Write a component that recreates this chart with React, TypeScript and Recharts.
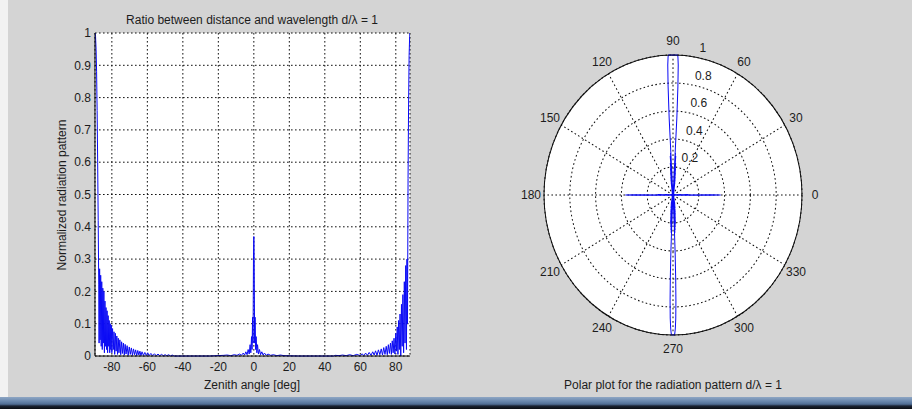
import {
  CartesianGrid,
  Line,
  LineChart,
  PolarAngleAxis,
  PolarGrid,
  PolarRadiusAxis,
  Radar,
  RadarChart,
  XAxis,
  YAxis,
} from "recharts";

// normalized radiation pattern, zenith angle in degrees
const LEFT_ZENITH = [
  -89.5, -89.2, -88.9, -88.6, -88.3, -88.0, -87.7, -87.4, -87.2, -86.9, -86.6, -86.3, -86.0, -85.7, -85.4,
  -85.1, -84.8, -84.5, -84.2, -83.9, -83.6, -83.3, -83.0, -82.7, -82.4, -82.1, -81.8, -81.5, -81.2, -80.9,
  -80.6, -80.3, -80.0, -79.6, -79.2, -78.8, -78.4, -78.0, -77.6, -77.2, -76.8, -76.4, -76.0, -75.5, -75.0,
  -74.5, -74.0, -73.5, -73.0, -72.5, -72.0, -71.4, -70.8, -70.2, -69.6, -69.0, -68.4, -67.8, -67.2, -66.6,
  -66.0, -65.4, -64.8, -64.2, -63.6, -63.0, -62.2, -61.4, -60.6, -59.8, -59.0, -58.0, -57.0, -56.0, -55.0,
  -54.0, -53.0, -52.0, -51.0, -50.0, -49.0, -48.0, -47.0, -46.0, -45.0, -35.0, -25.0,
];
const LEFT_LEVEL = [
  1.0, 0.99, 0.95, 0.88, 0.76, 0.6, 0.42, 0.22, 0.04, 0.27, 0.05, 0.25, 0.03, 0.23, 0.02,
  0.21, 0.04, 0.2, 0.01, 0.17, 0.03, 0.15, 0.02, 0.14, 0.01, 0.125, 0.03, 0.11, 0.01, 0.1,
  0.02, 0.095, 0.01, 0.085, 0.02, 0.075, 0.005, 0.07, 0.015, 0.062, 0.005, 0.055, 0.01, 0.05, 0.004,
  0.044, 0.008, 0.04, 0.003, 0.036, 0.006, 0.032, 0.002, 0.028, 0.005, 0.025, 0.002, 0.022, 0.004, 0.019,
  0.001, 0.017, 0.003, 0.015, 0.001, 0.013, 0.002, 0.011, 0.001, 0.01, 0.001, 0.008, 0.001, 0.007, 0.001,
  0.006, 0.001, 0.005, 0.001, 0.004, 0.001, 0.004, 0.0, 0.003, 0.0, 0.0, 0.0,
];

const MID_ZENITH = [
  -17, -15, -13, -11, -9.5, -8, -7, -6, -5.2, -4.5, -3.8, -3.2, -2.6, -2.1, -1.7, -1.3, -1.0, -0.7, -0.45, -0.2,
  0, 0.2, 0.45, 0.7, 1.0, 1.3, 1.7, 2.1, 2.6, 3.2, 3.8, 4.5, 5.2, 6, 7, 8, 9.5, 11, 13, 15, 17, 25, 35,
];
const MID_LEVEL = [
  0.002, 0.003, 0.001, 0.004, 0.002, 0.006, 0.002, 0.009, 0.003, 0.013, 0.004, 0.02, 0.006, 0.035, 0.01, 0.06,
  0.02, 0.12, 0.04, 0.3, 0.37, 0.3, 0.04, 0.12, 0.02, 0.06, 0.01, 0.035, 0.006, 0.02, 0.004, 0.013, 0.003, 0.009,
  0.002, 0.006, 0.002, 0.004, 0.001, 0.003, 0.001, 0.0, 0.0,
];

const RIGHT_ZENITH = [
  45, 46, 48, 50, 52, 54, 56, 58, 60, 61, 62, 63, 64, 65, 66, 67, 67.8, 68.6, 69.4, 70.2, 71, 71.8, 72.5,
  73.2, 73.9, 74.6, 75.2, 75.8, 76.4, 77, 77.5, 78, 78.5, 79, 79.5, 80, 80.4, 80.8, 81.2, 81.6, 82, 82.4,
  82.8, 83.2, 83.6, 84, 84.4, 84.8, 85.2, 85.6, 86, 86.3, 86.6, 86.9, 87.2, 87.5, 87.8, 88,
];
const RIGHT_LEVEL = [
  0.0, 0.002, 0.001, 0.003, 0.001, 0.004, 0.001, 0.005, 0.001, 0.007, 0.001, 0.009, 0.002, 0.011, 0.002, 0.013,
  0.003, 0.016, 0.002, 0.019, 0.004, 0.022, 0.003, 0.026, 0.005, 0.03, 0.004, 0.035, 0.008, 0.04, 0.005, 0.047,
  0.01, 0.055, 0.006, 0.07, 0.015, 0.09, 0.005, 0.11, 0.02, 0.13, 0.0, 0.16, 0.03, 0.19, 0.01, 0.23, 0.04, 0.28,
  0.02, 0.3, 0.1, 0.55, 0.78, 0.93, 0.99, 1.0,
];

const X_TICKS = [-80, -60, -40, -20, 0, 20, 40, 60, 80];
const Y_TICKS = [0, 0.1, 0.2, 0.3, 0.4, 0.5, 0.6, 0.7, 0.8, 0.9, 1];
const ANGLE_TICKS = [0, 30, 60, 90, 120, 150, 180, 210, 240, 270, 300, 330];
const RING_TICKS = [0.2, 0.4, 0.6, 0.8, 1];

const ZENITH = [...LEFT_ZENITH, ...MID_ZENITH, ...RIGHT_ZENITH];
const LEVEL = [...LEFT_LEVEL, ...MID_LEVEL, ...RIGHT_LEVEL];

const patternData = ZENITH.map((z, i) => ({ zenith: z, level: LEVEL[i] }));

// polar plot: same pattern, mirrored about the 90/270 axis
const polarData = patternData
  .flatMap((d) => [
    { phi: d.zenith < 0 ? d.zenith + 360 : d.zenith, level: d.level },
    { phi: 180 - d.zenith, level: d.level },
  ])
  .sort((a, b) => a.phi - b.phi);

const BLUE = "#0a0af5";
const TEXT = "#1c1c1c";
const FONT = "'Liberation Sans', Arial, sans-serif";
// the screenshot stretches the polar axes vertically
const STRETCH = 140 / 129;

function PatternChart() {
  return (
    <div style={{ position: "absolute", left: 0, top: 0 }}>
      <LineChart width={440} height={409} data={patternData} margin={{ top: 33, right: 30, bottom: 23, left: 35 }}>
        <CartesianGrid stroke="#111" strokeDasharray="1.6 2.4" fill="#fff" />
        <XAxis
          dataKey="zenith"
          type="number"
          domain={[-89.5, 88]}
          ticks={X_TICKS}
          allowDataOverflow
          height={30}
          tickLine={false}
          tickSize={4}
          tickMargin={2}
          axisLine={{ stroke: "#000" }}
          tick={{ fill: TEXT, fontSize: 12 }}
        />
        <XAxis xAxisId="top" orientation="top" type="number" domain={[-89.5, 88]} height={0} tick={false} tickLine={false} axisLine={{ stroke: "#000" }} />
        <YAxis
          type="number"
          domain={[0, 1]}
          ticks={Y_TICKS}
          width={60}
          tickLine={false}
          tickSize={3}
          tickMargin={1}
          axisLine={{ stroke: "#000" }}
          tick={{ fill: TEXT, fontSize: 12 }}
        />
        <YAxis yAxisId="right" orientation="right" domain={[0, 1]} width={0} tick={false} tickLine={false} axisLine={{ stroke: "#000" }} />
        <Line type="linear" dataKey="level" stroke={BLUE} strokeWidth={1} dot={false} isAnimationActive={false} />
      </LineChart>
    </div>
  );
}

function AngleTick({ x, y, payload }: any) {
  return (
    <g transform={`translate(${x},${y}) scale(1,${1 / STRETCH})`}>
      <text textAnchor="middle" dominantBaseline="central" fontSize={12} fill={TEXT} fontFamily={FONT}>
        {payload.value}
      </text>
    </g>
  );
}

function RingTick({ x, y, payload }: any) {
  return (
    <g transform={`translate(${x},${y}) scale(1,${1 / STRETCH})`}>
      <text x={4} y={-9} textAnchor="start" dominantBaseline="central" fontSize={12} fill={TEXT} fontFamily={FONT}>
        {payload.value}
      </text>
    </g>
  );
}

function PolarPattern() {
  return (
    <div
      style={{
        position: "absolute",
        left: 513,
        top: 34.5,
        width: 320,
        height: 320,
        transform: `scaleY(${STRETCH})`,
        transformOrigin: "160px 160px",
      }}
    >
      {/* white face of the polar axes */}
      <div style={{ position: "absolute", left: 31, top: 31, width: 258, height: 258, borderRadius: "50%", background: "#fff" }} />
      <div style={{ position: "absolute", left: 0, top: 0 }}>
        <RadarChart
          width={320}
          height={320}
          data={polarData}
          cx={160}
          cy={160}
          outerRadius={129}
          startAngle={0}
          endAngle={360}
          margin={{ top: 0, right: 0, bottom: 0, left: 0 }}
        >
          <PolarGrid gridType="circle" stroke="#111" strokeDasharray="1.6 2.4" />
          <PolarAngleAxis
            dataKey="phi"
            type="number"
            domain={[0, 360]}
            ticks={ANGLE_TICKS}
            axisLineType="circle"
            axisLine={{ stroke: "#111" }}
            tickLine={false}
            tickSize={13}
            tick={<AngleTick />}
          />
          <PolarRadiusAxis
            angle={80}
            domain={[0, 1]}
            ticks={RING_TICKS}
            axisLine={false}
            tickLine={false}
            tick={<RingTick />}
          />
          <Radar dataKey="level" stroke={BLUE} strokeWidth={1} fill="none" fillOpacity={0} dot={false} isAnimationActive={false} />
        </RadarChart>
      </div>
    </div>
  );
}

const label = { position: "absolute" as const, fontSize: 12, lineHeight: "14px", textAlign: "center" as const, color: TEXT };

export default function App() {
  return (
    <div
      style={{
        position: "absolute",
        left: 0,
        top: 0,
        width: 912,
        height: 409,
        background: "#d4d4d4",
        overflow: "hidden",
        fontFamily: FONT,
      }}
    >
      <div style={{ position: "absolute", left: 0, top: 0, width: 8, height: 398, background: "#f2f2f2" }} />
      <div style={{ ...label, left: 52, top: 13, width: 400 }}>Ratio between distance and wavelength d/λ = 1</div>
      <PatternChart />
      <div style={{ ...label, left: 52, top: 378, width: 400 }}>Zenith angle [deg]</div>
      <div style={{ ...label, left: -38, top: 188, width: 200, transform: "rotate(-90deg)" }}>Normalized radiation pattern</div>
      <PolarPattern />
      <div style={{ ...label, left: 473, top: 378, width: 400 }}>Polar plot for the radiation pattern d/λ = 1</div>
      <div
        style={{
          position: "absolute",
          left: 0,
          top: 397,
          width: 912,
          height: 12,
          background: "linear-gradient(to bottom, #8ea6c4 0%, #6a88ae 35%, #4f6d94 60%, #1a2333 75%, #0a0d12 100%)",
        }}
      />
    </div>
  );
}
